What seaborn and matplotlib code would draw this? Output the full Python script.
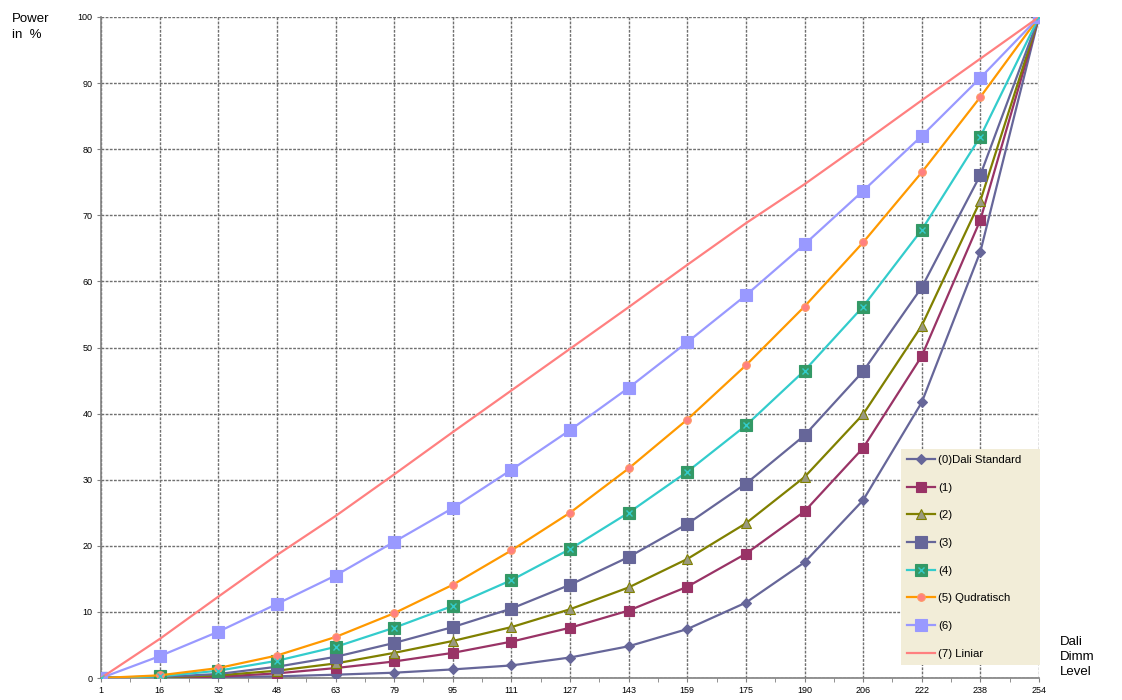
import pandas as pd
import seaborn as sns
import matplotlib.pyplot as plt
from matplotlib.legend_handler import HandlerTuple

# === Data ===
levels = [1, 16, 32, 48, 63, 79, 95, 111, 127, 143, 159, 175, 190, 206, 222, 238, 254]

s0_dali = [0.1, 0.1, 0.15, 0.25, 0.5, 0.8, 1.3, 1.9, 3.1, 4.8, 7.4, 11.4, 17.5, 26.9, 41.7, 64.5, 100]
s1 = [0.0, 0.05, 0.2, 0.7, 1.5, 2.5, 3.8, 5.5, 7.6, 10.2, 13.8, 18.8, 25.2, 34.8, 48.7, 69.3, 100]
s2 = [0.0, 0.1, 0.4, 1.1, 2.2, 3.8, 5.6, 7.7, 10.4, 13.7, 18.0, 23.4, 30.4, 39.9, 53.3, 72.2, 100]
s3 = [0.0, 0.15, 0.6, 1.7, 3.2, 5.3, 7.7, 10.5, 14.1, 18.3, 23.3, 29.4, 36.7, 46.4, 59.1, 76.1, 100]
s4 = [0.0, 0.25, 1.1, 2.6, 4.7, 7.6, 10.9, 14.8, 19.5, 25.0, 31.2, 38.2, 46.5, 56.2, 67.8, 81.9, 100]
s5_quad = [0.0, 0.4, 1.5, 3.4, 6.2, 9.8, 14.1, 19.3, 25.0, 31.7, 39.1, 47.3, 56.2, 65.9, 76.5, 87.9, 100]
s6 = [0.0, 3.3, 7.0, 11.2, 15.5, 20.6, 25.7, 31.5, 37.5, 43.9, 50.8, 57.9, 65.6, 73.7, 82.0, 90.8, 100]
s7_lin = [0.0, 5.9, 12.3, 18.6, 24.5, 30.8, 37.2, 43.5, 49.8, 56.1, 62.5, 68.8, 74.7, 81.0, 87.4, 93.7, 100]

series_names = ['(0)Dali Standard', '(1)', '(2)', '(3)', '(4)', '(5) Qudratisch', '(6)', '(7) Liniar']
series_vals = [s0_dali, s1, s2, s3, s4, s5_quad, s6, s7_lin]

df = pd.DataFrame({'pos': range(len(levels))})
for name, vals in zip(series_names, series_vals):
    df[name] = vals

# === Styles: (line colour, marker, marker size, marker face, marker edge) ===
styles = [
    ('#666699', 'D', 5, '#666699', '#666699'),
    ('#993366', 's', 6.5, '#993366', '#993366'),
    ('#808000', '^', 7, '#999980', '#808000'),
    ('#666699', 's', 9, '#666699', '#666699'),
    ('#33CCCC', 's', 8.5, '#339966', '#339966'),
    ('#FF9900', 'o', 5.5, '#FF8080', '#FF9966'),
    ('#9999FF', 's', 9, '#9999FF', '#9999FF'),
    ('#FF8080', None, 0, 'none', 'none'),
]

plt.rcParams['font.family'] = ['Liberation Sans', 'DejaVu Sans']
fig = plt.figure(figsize=(11.22, 7.0), dpi=100)
ax = fig.add_axes([101 / 1122, 22 / 700, 938 / 1122, 661 / 700])

handles = []
for name, (col, mk, ms, mfc, mec) in zip(series_names, styles):
    sns.lineplot(data=df, x='pos', y=name, ax=ax, color=col, lw=1.6,
                 marker=mk, markersize=ms, markerfacecolor=mfc,
                 markeredgecolor=mec, markeredgewidth=0.8, label=name,
                 zorder=3, legend=False)
    h = ax.lines[-1]
    if name == '(4)':
        # cyan star inside the green box
        ax.plot(df['pos'], df[name], ls='none', marker='x', ms=4.5,
                mec='#33CCCC', mew=1, zorder=4)
        h = (h, ax.lines[-1])
    handles.append(h)

# === Axes ===
ax.set_xlim(0, len(levels) - 1)
ax.set_ylim(0, 100)
ax.set_xticks(range(len(levels)))
ax.set_xticklabels(levels, fontsize=6.5)
ax.set_xticks([i + 0.5 for i in range(len(levels) - 1)], minor=True)
ax.set_yticks(range(0, 101, 10))
ax.set_yticklabels(range(0, 101, 10), fontsize=6.5)
ax.set_xlabel('')
ax.set_ylabel('')
ax.tick_params(axis='both', which='both', length=3, color='#808080', pad=3)
ax.grid(True, color='#707070', linestyle=(0, (2, 1)), lw=1, zorder=1)
for side in ['top', 'right']:
    ax.spines[side].set_visible(False)
for side in ['left', 'bottom']:
    ax.spines[side].set_color('#808080')
    ax.spines[side].set_linewidth(1.2)

leg = ax.legend(handles, series_names, loc='lower left',
                bbox_to_anchor=(0.853, 0.02, 0.148, 0.345), mode='expand',
                handler_map={tuple: HandlerTuple(ndivide=1)},
                frameon=True, fancybox=False, fontsize=8.2, handlelength=2.4,
                handletextpad=0.3, labelspacing=1.55, borderpad=0.55,
                borderaxespad=0)
leg.get_frame().set_facecolor('#F2EDD8')
leg.get_frame().set_edgecolor('none')
leg.get_frame().set_alpha(1)

fig.text(12 / 1122, 1 - 27 / 700, 'Power\nin  %', fontsize=9.5, va='center',
         ha='left', linespacing=1.4)
fig.text(1060 / 1122, 1 - 657 / 700, 'Dali\nDimm\nLevel', fontsize=9.5,
         va='center', ha='left', linespacing=1.3)

plt.savefig('out.png', dpi=100)
plt.close()
